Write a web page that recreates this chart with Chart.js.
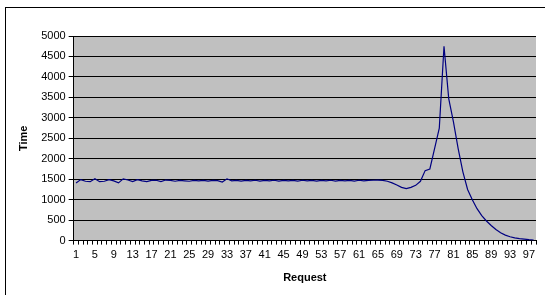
<!DOCTYPE html>
<html>
<head>
<meta charset="utf-8">
<script src="https://cdn.jsdelivr.net/npm/chart.js@4"></script>
<style>
    body { margin: 0; background: #fff; }
    #wrap { position: relative; width: 545px; height: 295px; }
    #frame { position: absolute; left: 5px; top: 7px; width: 560px; height: 300px; border: 1px solid #000; }
</style>
</head>
<body>
<div id="wrap">
    <div id="frame"></div>
    <canvas id="timeChart" width="545" height="295"></canvas>
</div>
<script>
// request numbers 1..98
var requests = [];
for (var r = 1; r <= 98; r++) requests.push(r);

// response time per request
var times = [
    1410, 1490, 1450, 1440, 1510, 1440, 1450, 1490, 1460, 1410,
    1510, 1480, 1440, 1490, 1460, 1440, 1470, 1475, 1440, 1480,
    1470, 1450, 1470, 1460, 1450, 1470, 1460, 1470, 1455, 1470,
    1465, 1430, 1510, 1460, 1470, 1455, 1470, 1460, 1475, 1455,
    1470, 1460, 1475, 1455, 1470, 1460, 1470, 1455, 1475, 1460,
    1470, 1455, 1470, 1460, 1475, 1455, 1470, 1460, 1470, 1455,
    1475, 1460, 1470, 1475, 1480, 1470, 1450, 1410, 1360, 1300,
    1270, 1300, 1350, 1450, 1710, 1750, 2250, 2750, 4750, 3470,
    2900, 2250, 1680, 1250, 1000, 780, 610, 480, 370, 270,
    190, 135, 95, 65, 48, 35, 22, 12
];

var yTicks = [0, 500, 1000, 1500, 2000, 2500, 3000, 3500, 4000, 4500, 5000];

const plotBg = {
    id: 'plotBg',
    beforeDraw: function (chart) {
        var a = chart.chartArea, c = chart.ctx;
        c.save();
        c.fillStyle = '#c0c0c0';
        c.fillRect(a.left, a.top, a.right - a.left, a.bottom - a.top);
        c.restore();
    }
};

var ctx = document.getElementById('timeChart').getContext('2d');
var timeChart = new Chart(ctx, {
    type: 'line',
    data: {
        labels: requests,
        datasets: [{
            label: 'Time',
            data: times,
            borderColor: '#000080',
            borderWidth: 1.2,
            pointRadius: 0,
            tension: 0,
            fill: false
        }]
    },
    options: {
        responsive: false,
        animation: false,
        layout: { padding: { left: 17, right: 9, top: 36, bottom: 10 } },
        plugins: { legend: { display: false }, tooltip: { enabled: false } },
        scales: {
            x: {
                offset: true,
                grid: { drawOnChartArea: false, offset: true, color: '#000', tickLength: 4 },
                border: { color: '#000' },
                ticks: {
                    autoSkip: false, maxRotation: 0, color: '#000',
                    font: { family: 'Liberation Sans', size: 11 }, padding: 4,
                    callback: function (v, i) { return i % 4 === 0 ? requests[i] : ''; }
                },
                title: {
                    display: true, text: 'Request', color: '#000',
                    font: { family: 'Liberation Sans', size: 11, weight: 'bold' }, padding: { top: 6, bottom: 0 }
                }
            },
            y: {
                min: 0, max: 5000,
                afterBuildTicks: function (axis) { axis.ticks = yTicks.map(function (v) { return { value: v }; }); },
                grid: { color: '#000', tickLength: 5 },
                border: { color: '#000' },
                ticks: {
                    color: '#000', font: { family: 'Liberation Sans', size: 11 }, padding: 3,
                    callback: function (v) { return String(v); }
                },
                title: {
                    display: true, text: 'Time', color: '#000',
                    font: { family: 'Liberation Sans', size: 11, weight: 'bold' }, padding: { top: 0, bottom: 8 }
                }
            }
        }
    },
    plugins: [plotBg]
});
</script>
</body>
</html>
